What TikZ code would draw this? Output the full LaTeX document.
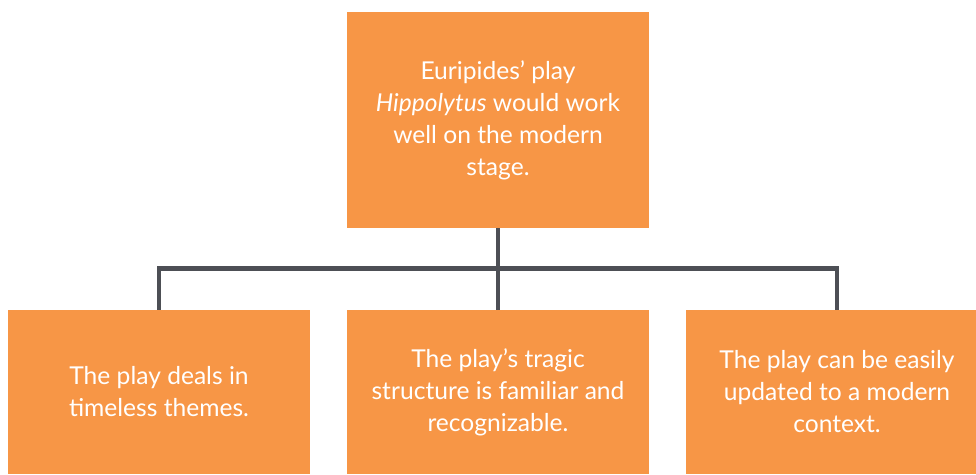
\documentclass[tikz,border=0pt]{standalone}
\usepackage{fontspec}
\setmainfont{Lato}
\usetikzlibrary{positioning}
\definecolor{boxColor}{HTML}{F79646}
\definecolor{linkColor}{HTML}{4D4F55}

\begin{document}
\begin{tikzpicture}[x=1pt, y=-1pt,
    box/.style={fill=boxColor, text=white, minimum width=302pt, inner sep=0, outer sep=0,
      align=center, anchor=center, font=\fontsize{24.6}{32}\selectfont},
    topbox/.style={box, minimum height=216pt},
    leafbox/.style={box, minimum height=164pt},
    link/.style={draw=linkColor, line width=4.8pt}
  ]
  \clip (0,0) rectangle (976,474);
  \node[topbox] (claim) at (498,120) {Euripides’ play\\\textit{Hippolytus} would work\\well on the modern\\stage.};
  \node[leafbox, below=82pt of claim] (structure) {The play’s tragic\\structure is familiar and\\recognizable.};
  \node[leafbox, left=37pt of structure] (themes) {The play deals in\\timeless themes.};
  \node[leafbox, right=37pt of structure] (context) {The play can be easily\\updated to a modern\\context.};
  \draw[link] (claim.south) -- ++(0,40.5) coordinate (hub) -| (themes.north);
  \draw[link] (hub) -| (context.north);
  \draw[link] (hub) -- (structure.north);
\end{tikzpicture}
\end{document}
